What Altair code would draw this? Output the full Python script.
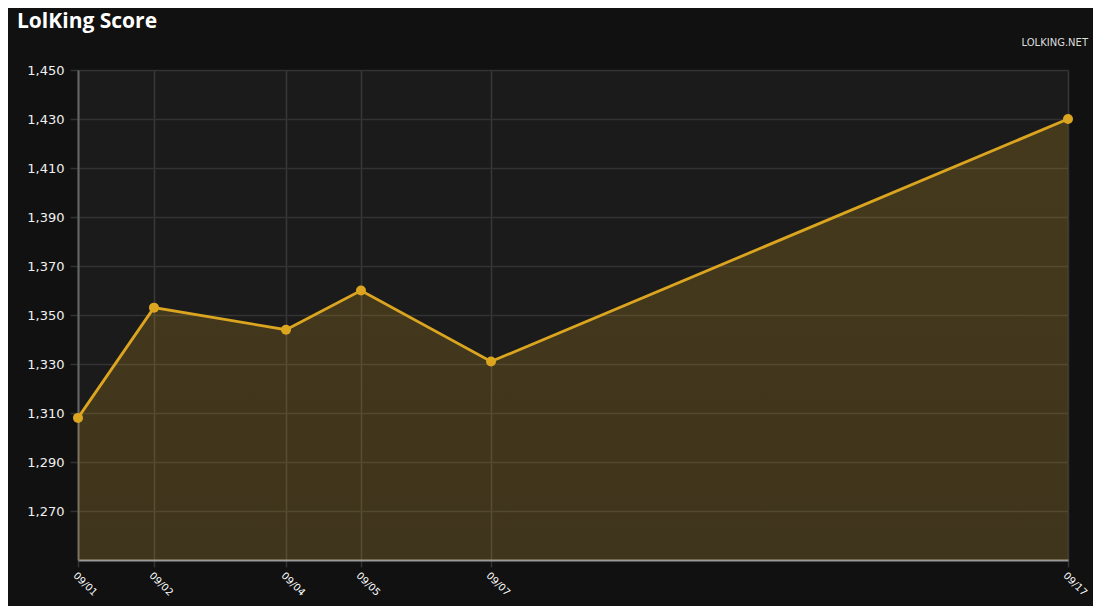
import altair as alt
import pandas as pd

# Data
timestamps = [
    "2013-09-01T00:00:00",
    "2013-09-02T05:28:00",
    "2013-09-04T08:41:00",
    "2013-09-05T13:46:00",
    "2013-09-07T16:12:00",
    "2013-09-17T00:00:00",
]
scores = [1308, 1353, 1344, 1360, 1331, 1430]
y_ticks = [1270, 1290, 1310, 1330, 1350, 1370, 1390, 1410, 1430, 1450]
x_tick_parts = [
    (2013, 9, 1, 0, 0),
    (2013, 9, 2, 5, 28),
    (2013, 9, 4, 8, 41),
    (2013, 9, 5, 13, 46),
    (2013, 9, 7, 16, 12),
    (2013, 9, 17, 0, 0),
]
title_text = ["LolKing Score"]
brand_text = ["LOLKING.NET"]

df = pd.DataFrame({"t": timestamps, "score": scores})

x_values = [alt.DateTime(year=a, month=b, date=c, hours=d, minutes=e) for a, b, c, d, e in x_tick_parts]

W, H = 990, 490
GOLD = "#dba520"

x_enc = alt.X(
    "t:T",
    scale=alt.Scale(nice=False, padding=0),
    axis=alt.Axis(
        values=x_values,
        format="%m/%d",
        title=None,
        labelAngle=45,
        labelAlign="left",
        labelBaseline="top",
        labelColor="#ffffff",
        labelFontSize=10,
        labelPadding=3,
        labelFont="DejaVu Sans",
        grid=True,
        gridColor="#383838",
        gridWidth=1.5,
        domainColor="#9a9a9a",
        domainWidth=2,
        tickColor="#333333",
        tickSize=7,
        tickWidth=1.5,
        labelFlush=False,
        labelOverlap=False,
    ),
)
y_enc = alt.Y(
    "score:Q",
    scale=alt.Scale(domain=[1250, 1450], nice=False, zero=False),
    axis=alt.Axis(
        values=y_ticks,
        format=",d",
        title=None,
        labelColor="#f0f0f0",
        labelFontSize=13,
        labelFont="DejaVu Sans",
        labelPadding=6,
        grid=True,
        gridColor="#333333",
        gridWidth=1.5,
        domainColor="#666666",
        domainWidth=2,
        tickColor="#333333",
        tickSize=8,
        tickWidth=1.5,
    ),
)

area = alt.Chart(df).mark_area(
    color=alt.Gradient(
        gradient="linear",
        x1=0, y1=0, x2=0, y2=1,
        stops=[
            alt.GradientStop(color="rgba(218,165,32,0.22)", offset=0),
            alt.GradientStop(color="rgba(218,165,32,0.19)", offset=1),
        ],
    ),
    interpolate="linear",
).encode(x=x_enc, y=y_enc, y2=alt.datum(1250))

line = alt.Chart(df).mark_line(color=GOLD, strokeWidth=2.8).encode(x=x_enc, y=y_enc)
points = alt.Chart(df).mark_circle(color=GOLD, size=100, opacity=1).encode(x=x_enc, y=y_enc)

brand = alt.Chart(pd.DataFrame({"label": brand_text})).mark_text(
    align="right", baseline="alphabetic", color="#dddddd", fontSize=10, font="DejaVu Sans"
).encode(text="label:N", x=alt.value(1010), y=alt.value(-24))

title = alt.Chart(pd.DataFrame({"label": title_text})).mark_text(
    align="left", baseline="alphabetic", color="#ffffff", fontSize=21,
    font="Open Sans", fontWeight="bold"
).encode(text="label:N", x=alt.value(-61), y=alt.value(-42))

chart = (
    alt.layer(area, line, points, brand, title)
    .properties(
        width=W,
        height=H,
        autosize=alt.AutoSizeParams(type="none"),
        padding={"left": 70, "top": 62, "right": 25, "bottom": 46},
        background="#111111",
    )
    .configure_view(stroke=None, fill="#1b1b1b")
)

chart.save("out.html", embed_options={"renderer": "svg", "actions": False})
